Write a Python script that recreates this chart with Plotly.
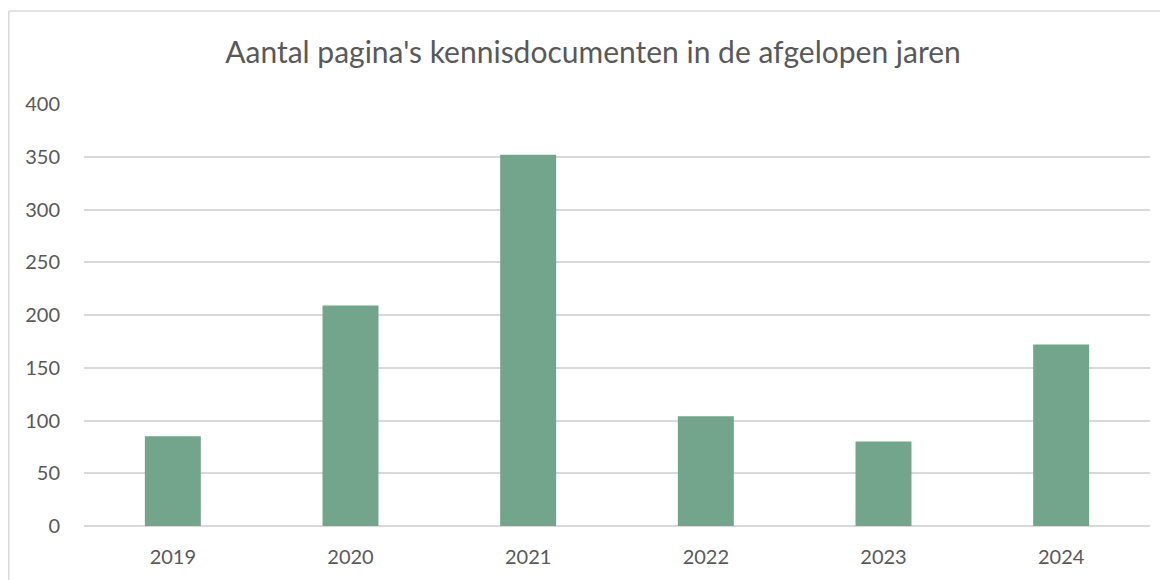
import plotly.graph_objects as go

years = ["2019", "2020", "2021", "2022", "2023", "2024"]
pages = [85, 209, 352, 104, 80, 172]
y_ticks = [0, 50, 100, 150, 200, 250, 300, 350, 400]

title_text = "Aantal pagina's kennisdocumenten in de afgelopen jaren"

# The page body has an 8px default margin, so the figure is drawn at (8, 8).
OFF = 8
W, H = 1160, 572
ml, mr, mt, mb = 84 - OFF, 18, 104 - OFF, 54
pw = W - ml - mr
ph = H - mt - mb

def px_to_paper_x(px):
    return (px - OFF - ml) / pw

def py_to_paper_y(py):
    return (H - mb - (py - OFF)) / ph

fig = go.Figure(
    go.Bar(
        x=years,
        y=pages,
        marker=dict(color="#73A48C", line=dict(width=0)),
    )
)

border_color = "#D9D9D9"

fig.update_layout(
    width=W,
    height=H,
    margin=dict(l=ml, r=mr, t=mt, b=mb),
    paper_bgcolor="white",
    plot_bgcolor="white",
    bargap=0.685,
    showlegend=False,
    font=dict(family="Lato, Calibri, sans-serif", color="#595959"),
    title=dict(
        text=title_text,
        x=(593 - OFF - ml) / pw,
        xref="paper",
        y=1 - (52 - OFF) / H,
        yref="container",
        xanchor="center",
        yanchor="middle",
        font=dict(size=30, color="#595959", family="Lato, sans-serif"),
    ),
    xaxis=dict(
        showgrid=False,
        showline=False,
        zeroline=False,
        tickfont=dict(size=20, color="#595959"),
        ticks="",
        ticklabelstandoff=17,
    ),
    yaxis=dict(
        range=[0, 400],
        tickvals=y_ticks,
        showgrid=True,
        gridcolor=border_color,
        gridwidth=1.5,
        zeroline=True,
        zerolinecolor=border_color,
        zerolinewidth=1.5,
        showline=False,
        tickfont=dict(size=20, color="#595959"),
        ticks="",
        ticklabelstandoff=23,
    ),
    shapes=[
        dict(
            type="line", xref="paper", yref="paper",
            x0=px_to_paper_x(8.75), x1=px_to_paper_x(1175),
            y0=py_to_paper_y(11), y1=py_to_paper_y(11),
            line=dict(color=border_color, width=1.5),
        ),
        dict(
            type="line", xref="paper", yref="paper",
            x0=px_to_paper_x(8.75), x1=px_to_paper_x(8.75),
            y0=py_to_paper_y(11), y1=py_to_paper_y(600),
            line=dict(color=border_color, width=1.5),
        ),
    ],
)

fig.write_html("out.html")
